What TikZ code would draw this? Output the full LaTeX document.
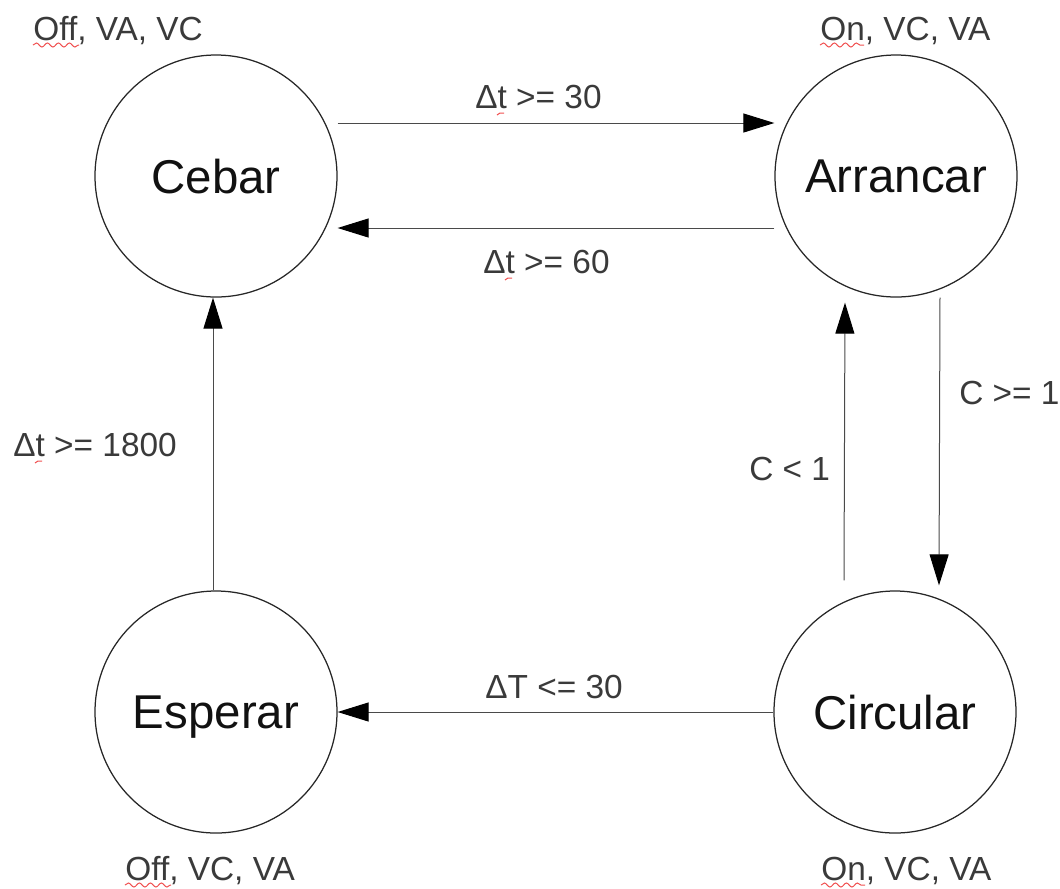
\documentclass[tikz,border=0pt]{standalone}
\usepackage{fontspec}
\setmainfont{Liberation Sans}
\usetikzlibrary{arrows.meta,calc,decorations.pathmorphing}
\definecolor{StateInk}{HTML}{111111}
\definecolor{LabelInk}{HTML}{3A3A3A}
\definecolor{LineInk}{HTML}{4A4A4A}
\definecolor{SpellRed}{HTML}{F05050}

\begin{document}
\begin{tikzpicture}[x=0.2mm,y=-0.2mm,
  state/.style={circle,draw=black!85,line width=0.25mm,minimum size=48.4mm,inner sep=0pt,
    text=StateInk,text depth=0pt,font=\fontsize{27pt}{30pt}\selectfont},
  lbl/.style={anchor=base west,inner sep=0pt,text=LabelInk,font=\fontsize{19pt}{22pt}\selectfont},
  arr/.style={draw=LineInk,line width=0.2mm,-{Triangle[length=6.2mm,width=3.8mm,color=black]}},
  squig/.style={draw=SpellRed,line width=0.2mm,decorate,
    decoration={snake,segment length=2.2mm,amplitude=0.4mm}}]
\useasboundingbox (0,0) rectangle (1060,888);
% states
\node[state] (cebar) at (216,176) {Cebar};
\node[state] (arrancar) at (896,176) {Arrancar};
\node[state] (esperar) at (216,712) {Esperar};
\node[state] (circular) at (895,712) {Circular};
% outputs of each state
\node[lbl] (outCebar) at (33,40) {Off, VA, VC};
\node[lbl] (outArrancar) at (820,40) {On, VC, VA};
\node[lbl] (outEsperar) at (125,880) {Off, VC, VA};
\node[lbl] (outCircular) at (821,880) {On, VC, VA};
% transitions
\draw[arr] ([yshift=10.6mm]cebar.east) -- ([yshift=10.6mm]arrancar.west);
\draw[arr] ([yshift=-10.4mm]arrancar.west) -- ([yshift=-10.4mm]cebar.east);
\draw[arr] ([xshift=8.8mm]arrancar.south) -- ([xshift=8.8mm,yshift=1mm]circular.north);
\draw[arr] ([xshift=-10.2mm,yshift=2mm]circular.north) -- ([xshift=-10.2mm,yshift=-1mm]arrancar.south);
\draw[arr] (circular.west) -- (esperar.east);
\draw[arr] ([xshift=-0.6mm]esperar.north) -- ([xshift=-0.6mm]cebar.south);
% conditions
\node[lbl] (c30) at (475,108) {Δt >= 30};
\node[lbl] (c60) at (483,273) {Δt >= 60};
\node[lbl] (c1800) at (13,456) {Δt >= 1800};
\node[lbl] (cGe) at (959,404) {C >= 1};
\node[lbl] (cLt) at (749,480) {C < 1};
\node[lbl] (cT30) at (485,698) {ΔT <= 30};
% spell-check marks
\draw[squig] ($(outCebar.base west)+(0,5)$) -- ++(46,0);
\draw[squig] ($(outArrancar.base west)+(0,5)$) -- ++(44,0);
\draw[squig] ($(outEsperar.base west)+(0,5)$) -- ++(46,0);
\draw[squig] ($(outCircular.base west)+(0,5)$) -- ++(44,0);
\foreach \c in {c30,c60,c1800}{\draw[SpellRed,line width=0.2mm] ($(\c.base west)+(22,7)$) -- ++(3,-2) -- ++(4,0);}
\end{tikzpicture}
\end{document}
